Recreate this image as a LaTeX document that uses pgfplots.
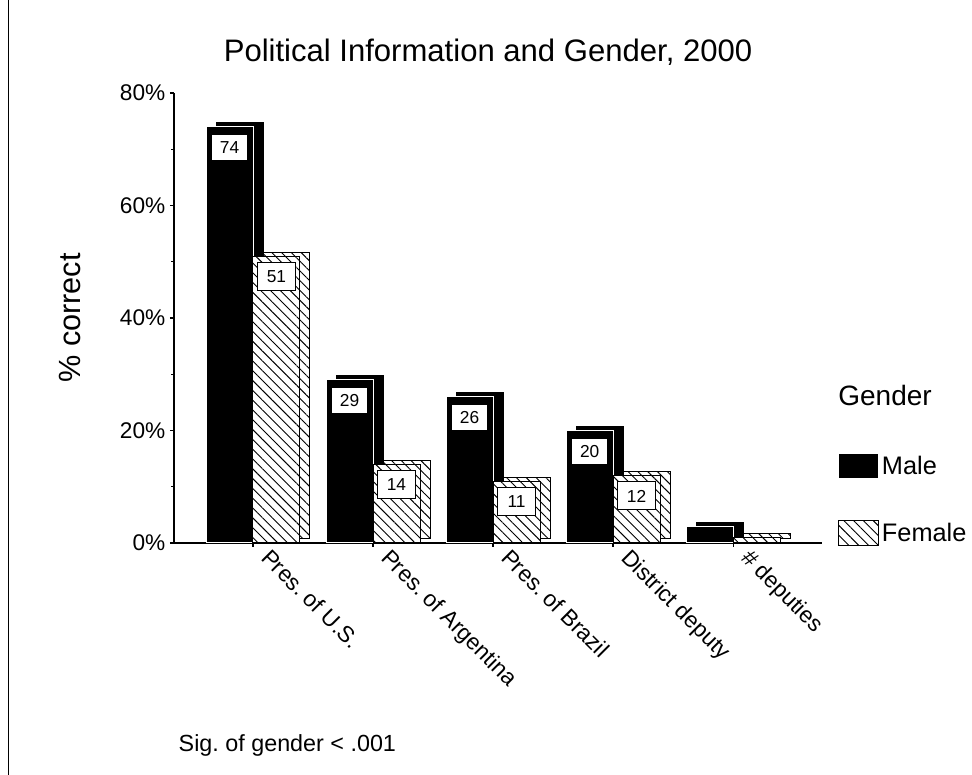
\documentclass[border=0pt]{standalone}
\usepackage{pgfplots}
\pgfplotsset{compat=1.18}
\usepackage{pgfplotstable}
\usepackage{fontspec}
\setmainfont{Liberation Sans}
\usetikzlibrary{patterns.meta}
\frenchspacing

\pgfplotstableread{
x male female
0 74 51
1 29 14
2 26 11
3 20 12
4 3 1
}\datatable

\tikzset{hatch/.style={pattern={Lines[angle=-45,distance=5.2pt,line width=0.7pt]}}}

\begin{document}
\begin{tikzpicture}
\useasboundingbox (0pt,0pt) rectangle (729pt,581.25pt);
\draw[line width=1pt] (6.4pt,0pt) -- (6.4pt,581.25pt);
\begin{axis}[
  at={(130.5pt,174pt)}, anchor=south west,
  scale only axis, width=486pt, height=337.5pt,
  xmin=-0.658, xmax=4.74, ymin=0, ymax=80,
  axis lines*=left,
  axis line style={line width=1pt},
  clip=false,
  /pgf/number format/assume math mode=true,
  tick align=outside,
  major tick length=3pt, minor tick length=2pt,
  tick style={line width=1pt, black},
  xtick={0,1,2,3,4},
  xticklabels={Pres. of U.S., Pres. of Argentina, Pres. of Brazil, District deputy, \# deputies},
  xticklabel style={xshift=14pt, yshift=4.6pt, rotate=-45, anchor=north west, font=\fontsize{17}{20}\selectfont},
  ytick={0,20,40,60,80},
  minor ytick={10,30,50,70},
  yticklabel={\pgfmathprintnumber{\tick}\%},
  yticklabel style={font=\fontsize{17}{20}\selectfont},
  ylabel={\% correct},
  every axis y label/.style={at={(axis description cs:-0.1605,0.5)}, rotate=90, anchor=center, font=\fontsize{23}{26}\selectfont},
  title={Political Information and Gender, 2000},
  every axis title/.style={at={(axis description cs:0.4846,1.091)}, anchor=center, font=\fontsize{23.3}{27}\selectfont},
  legend style={at={(axis description cs:1.0247,0.2)}, anchor=north west, draw=none, fill=none,
    font=\fontsize{19}{22}\selectfont, row sep=30.75pt, inner sep=0pt,
    nodes={inner sep=2pt}},
  legend cell align=left,
  legend image code/.code={\draw[#1] (0pt,-9.4pt) rectangle (30pt,9.4pt);},
]
% male depth
\addplot[ybar, bar width=35.25pt, bar shift=-10.1pt, yshift=3pt, fill=black, draw=black, line width=0.75pt, forget plot]
  table[x=x, y=male] {\datatable};
% male front
\addplot[ybar, bar width=35.25pt, bar shift=-17.6pt, fill=black, draw=white, line width=0.75pt]
  table[x=x, y=male] {\datatable};
\addlegendentry{Male}
% female depth
\addplot[ybar, bar width=35.25pt, bar shift=25.1pt, yshift=3pt, fill=white, hatch, draw=black, line width=0.75pt, forget plot]
  table[x=x, y=female] {\datatable};
% female front
\addplot[ybar, bar width=35.25pt, bar shift=17.6pt, fill=white, postaction={hatch}, draw=black, line width=0.75pt]
  table[x=x, y=female] {\datatable};
\addlegendentry{Female}
% labels
\addplot[draw=none, mark=none, forget plot,
  skip coords between index={4}{5},
  nodes near coords,
  every node near coord/.style={anchor=north, xshift=-17.6pt, yshift=-5.5pt, fill=white, draw=black, line width=0.75pt,
    minimum width=27pt, minimum height=19.5pt, inner sep=0pt, font=\fontsize{13}{15}\selectfont}]
  table[x=x, y=male] {\datatable};
\addplot[draw=none, mark=none, forget plot,
  skip coords between index={4}{5},
  nodes near coords,
  every node near coord/.style={anchor=north, xshift=17.6pt, yshift=-4.5pt, fill=white, draw=black, line width=0.75pt,
    minimum width=28.5pt, minimum height=21pt, inner sep=0pt, font=\fontsize{13}{15}\selectfont}]
  table[x=x, y=female] {\datatable};
\node[anchor=west, font=\fontsize{21}{24}\selectfont] at (axis description cs:1.018,0.3267) {Gender};
\node[anchor=west, font=\fontsize{17.5}{20}\selectfont] at (axis description cs:0.0,-0.449) {Sig. of gender < .001};
\end{axis}
\end{tikzpicture}
\end{document}
